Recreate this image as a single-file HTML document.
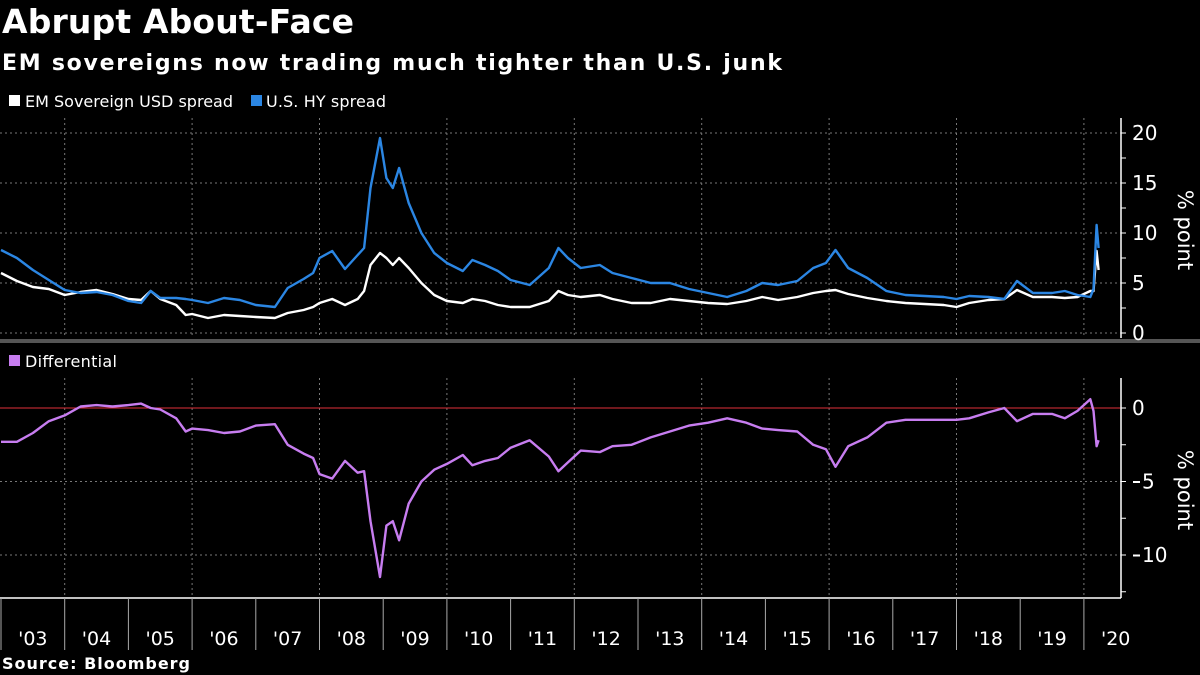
<!DOCTYPE html>
<html><head><meta charset="utf-8"><style>
html,body{margin:0;padding:0;background:#000;width:1200px;height:675px;overflow:hidden}
svg{display:block}
text{font-family:"DejaVu Sans","Liberation Sans",sans-serif;fill:#fff}
</style></head><body>
<svg id="c" width="1200" height="675" viewBox="0 0 1200 675">
<text x="2" y="33" font-size="33" font-weight="bold" textLength="352">Abrupt About-Face</text>
<text x="2" y="70" font-size="22" font-weight="bold" textLength="780">EM sovereigns now trading much tighter than U.S. junk</text>
<g>
<rect x="9" y="95" width="11" height="11" fill="#fff"/>
<text x="25" y="107" font-size="16" textLength="208">EM Sovereign USD spread</text>
<rect x="251" y="95" width="11" height="11" fill="#2b86e3"/>
<text x="266" y="107" font-size="16" textLength="120">U.S. HY spread</text>
</g>
<rect x="0" y="339" width="1200" height="4" fill="#555"/>
<g>
<rect x="9" y="355" width="11" height="11" fill="#c77df0"/>
<text x="25" y="367" font-size="16" textLength="92">Differential</text>
</g>
<text x="2" y="669" font-size="16" font-weight="bold" textLength="188">Source: Bloomberg</text>
<g id="g"></g>
</svg>
<script>
const dates=[2003.0,2003.25,2003.5,2003.75,2004.0,2004.25,2004.5,2004.75,2005.0,2005.2,2005.35,2005.5,2005.75,2005.9,2006.0,2006.25,2006.5,2006.75,2007.0,2007.3,2007.5,2007.75,2007.9,2008.0,2008.2,2008.4,2008.6,2008.7,2008.8,2008.95,2009.05,2009.15,2009.25,2009.4,2009.6,2009.8,2010.0,2010.25,2010.4,2010.6,2010.8,2011.0,2011.3,2011.6,2011.75,2011.9,2012.1,2012.4,2012.6,2012.9,2013.2,2013.5,2013.8,2014.1,2014.4,2014.7,2014.95,2015.2,2015.5,2015.75,2015.95,2016.1,2016.3,2016.6,2016.9,2017.2,2017.5,2017.8,2018.0,2018.2,2018.5,2018.75,2018.95,2019.2,2019.5,2019.7,2019.9,2020.1,2020.15,2020.2,2020.23];
const hySpread=[8.3,7.5,6.3,5.3,4.3,4.0,4.1,3.8,3.2,3.0,4.2,3.5,3.5,3.4,3.3,3.0,3.5,3.3,2.8,2.6,4.5,5.4,6.0,7.5,8.2,6.4,7.8,8.5,14.5,19.5,15.5,14.5,16.5,13.0,10.0,8.0,7.0,6.2,7.3,6.8,6.2,5.3,4.8,6.5,8.5,7.5,6.5,6.8,6.0,5.5,5.0,5.0,4.4,4.0,3.6,4.2,5.0,4.8,5.2,6.5,7.0,8.3,6.5,5.5,4.2,3.8,3.7,3.6,3.4,3.7,3.6,3.4,5.2,4.0,4.0,4.2,3.8,3.6,4.4,10.8,8.5];
const emSpread=[6.0,5.2,4.6,4.4,3.8,4.1,4.3,3.9,3.4,3.3,4.2,3.4,2.8,1.8,1.9,1.5,1.8,1.7,1.6,1.5,2.0,2.3,2.6,3.0,3.4,2.8,3.4,4.2,6.8,8.0,7.5,6.8,7.5,6.5,5.0,3.8,3.2,3.0,3.4,3.2,2.8,2.6,2.6,3.2,4.2,3.8,3.6,3.8,3.4,3.0,3.0,3.4,3.2,3.0,2.9,3.2,3.6,3.3,3.6,4.0,4.2,4.3,3.9,3.5,3.2,3.0,2.9,2.8,2.6,3.0,3.3,3.4,4.3,3.6,3.6,3.5,3.6,4.2,4.2,8.2,6.3];
const differential=emSpread.map((v,i)=>v-hySpread[i]);
const yearLabels=["'03","'04","'05","'06","'07","'08","'09","'10","'11","'12","'13","'14","'15","'16","'17","'18","'19","'20"];
const topTicks=[0,5,10,15,20];
const botTicks=[0,-5,-10];

const NS="http://www.w3.org/2000/svg";
const g=document.getElementById('g');
const X=d=>1+(d-2003)*63.7;
const YT=v=>333-v*10;
const YB=v=>408-v*14.7;
function mk(tag,at,parent){const e=document.createElementNS(NS,tag);for(const k in at)e.setAttribute(k,at[k]);(parent||g).appendChild(e);return e;}
const AX=1121;
topTicks.forEach(t=>{const l=mk('line',{x1:0,x2:AX,y1:YT(t),y2:YT(t),stroke:'#777','stroke-dasharray':'2,3','stroke-width':1});

});
botTicks.forEach(t=>{if(t===0)return;const l=mk('line',{x1:0,x2:AX,y1:YB(t),y2:YB(t),stroke:'#777','stroke-dasharray':'2,3','stroke-width':1});

});
for(let y=2004;y<=2020;y+=2){
 const a=mk('line',{x1:X(y),x2:X(y),y1:118,y2:338,stroke:'#777','stroke-dasharray':'2,3'});
 
 
 const b=mk('line',{x1:X(y),x2:X(y),y1:378,y2:598,stroke:'#777','stroke-dasharray':'2,3'});
 
 
}
const z=mk('line',{x1:0,x2:AX,y1:YB(0),y2:YB(0),stroke:'#e0303a','stroke-width':1});


const a1=mk('line',{x1:AX,x2:AX,y1:118,y2:338,stroke:'#fff','stroke-width':1.5});


const a2=mk('line',{x1:AX,x2:AX,y1:378,y2:598,stroke:'#fff','stroke-width':1.5});


for(let v=0;v<=20;v+=2.5){const t=mk('line',{x1:AX,x2:AX+5,y1:YT(v),y2:YT(v),stroke:'#fff'});

}
for(let v=0;v>=-12.5;v-=2.5){const t=mk('line',{x1:AX,x2:AX+5,y1:YB(v),y2:YB(v),stroke:'#fff'});

}
topTicks.forEach(t=>{const e=mk('text',{x:1132,y:YT(t)+7,'font-size':20});e.textContent=t;

});
botTicks.forEach(t=>{
 if(t<0){
  const d=mk('rect',{x:1133,y:YB(t)-0.5,width:7,height:2,fill:'#fff'});
  
  
 }
 const e=mk('text',{x:t<0?1142:1132,y:YB(t)+7,'font-size':20});e.textContent=Math.abs(t);
 
 });
[[230,'top-y-axis-title'],[490,'bottom-y-axis-title']].forEach(([cy,n])=>{
 const e=mk('text',{x:0,y:0,'font-size':21,'text-anchor':'middle',transform:`translate(1178,${cy}) rotate(90)`});e.textContent='% point';
 
 });
const xa=mk('line',{x1:0,x2:AX,y1:598,y2:598,stroke:'#fff','stroke-width':1.5});


for(let y=2003;y<=2020;y++){const t=mk('line',{x1:X(y),x2:X(y),y1:598,y2:650,stroke:'#aaa'});

}
yearLabels.forEach((l,i)=>{const e=mk('text',{x:X(2003+i)+31.8,y:645,'font-size':19,'text-anchor':'middle'});e.textContent=l;

});
function line(vals,ys,color,name){const d=vals.map((v,i)=>(i?'L':'M')+X(dates[i]).toFixed(1)+','+ys(v).toFixed(1)).join('');
 const p=mk('path',{d:d,fill:'none',stroke:color,'stroke-width':2.4,'stroke-linejoin':'round'});
 
 }
line(emSpread,YT,'#ffffff','em-sovereign-line');
line(hySpread,YT,'#2b86e3','us-hy-line');
line(differential,YB,'#c77df0','differential-line');
</script>
</body></html>
